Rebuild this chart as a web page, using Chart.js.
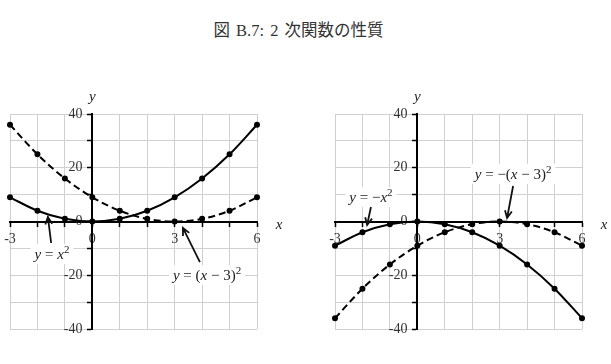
<!DOCTYPE html>
<html>
<head>
<meta charset="utf-8">
<script src="https://cdn.jsdelivr.net/npm/chart.js@4"></script>
<style>
  body { margin: 0; width: 611px; height: 364px; background: #fff; position: relative; overflow: hidden; }
  #title { position: absolute; left: 0; top: 17px; width: 597px; text-align: center; word-spacing: 2px;
           font: 16.5px "Liberation Serif", "Noto Sans CJK JP"; color: #333; }
  .box { position: absolute; top: 90px; height: 260px; }
</style>
</head>
<body>
<div id="title">図 B.7: 2 次関数の性質</div>
<div class="box" style="left:0;width:305px"><canvas id="c1"></canvas></div>
<div class="box" style="left:305px;width:306px"><canvas id="c2"></canvas></div>
<script>
// data
const xValues = [-3, -2, -1, 0, 1, 2, 3, 4, 5, 6];
const leftSolid = [9, 4, 1, 0, 1, 4, 9, 16, 25, 36];       // y = x^2
const leftDashed = [36, 25, 16, 9, 4, 1, 0, 1, 4, 9];      // y = (x-3)^2
const rightSolid = [-9, -4, -1, 0, -1, -4, -9, -16, -25, -36];   // y = -x^2
const rightDashed = [-36, -25, -16, -9, -4, -1, 0, -1, -4, -9];  // y = -(x-3)^2
const xTickLabels = [-3, 0, 3, 6];
const yTickLabels = [-40, -20, 0, 20, 40];

// callouts: text anchor, arrow start, arrow tip (data coords)
const leftNotes = [
  {label: 'y = x²', at: [-1.47, -12.1], from: [-1.5, -8], to: [-1.62, 1.7]},
  {label: 'y = (x − 3)²', at: [4.18, -19.9], from: [3.92, -15.1], to: [3.3, -2.4]}
];
const rightNotes = [
  {label: 'y = −x²', at: [-1.69, 9.1], from: [-1.69, 5.4], to: [-1.83, -1.3]},
  {label: 'y = −(x − 3)²', at: [3.49, 17.7], from: [3.49, 13.2], to: [3.27, 1.3]}
];

function pts(ys) {
  return xValues.map((x, i) => ({x: x, y: ys[i]}));
}

// split math text into italic letters / upright / superscript
function mathParts(str) {
  const parts = [];
  for (const c of str) {
    const kind = c === '²' ? 'sup' : (/[a-z]/.test(c) ? 'it' : 'up');
    const t = c === '²' ? '2' : c;
    if (parts.length && parts[parts.length - 1].kind === kind) parts[parts.length - 1].t += t;
    else parts.push({kind, t});
  }
  return parts;
}
function fontFor(kind) {
  if (kind === 'it') return 'italic 15px "Liberation Serif"';
  if (kind === 'sup') return '11px "Liberation Serif"';
  return '15px "Liberation Serif"';
}

const notesPlugin = {
  id: 'notes',
  afterDatasetsDraw(chart, args, opts) {
    const {ctx, chartArea} = chart;
    const sx = chart.scales.x, sy = chart.scales.y;
    ctx.save();
    ctx.fillStyle = '#222';
    ctx.font = 'italic 15px "Liberation Serif"';
    ctx.textAlign = 'center';
    ctx.textBaseline = 'middle';
    ctx.fillText('y', sx.getPixelForValue(0), chartArea.top - 17);
    ctx.fillText('x', chartArea.right + 22, sy.getPixelForValue(0) + 4);

    for (const n of opts.notes) {
      const parts = mathParts(n.label);
      let w = 0;
      parts.forEach(p => { ctx.font = fontFor(p.kind); p.w = ctx.measureText(p.t).width; w += p.w; });
      const cx = sx.getPixelForValue(n.at[0]), cy = sy.getPixelForValue(n.at[1]);
      ctx.fillStyle = '#fff';
      ctx.fillRect(cx - w / 2 - 4, cy - 10, w + 8, 20);
      ctx.fillStyle = '#222';
      ctx.textAlign = 'left';
      ctx.textBaseline = 'alphabetic';
      let px = cx - w / 2;
      parts.forEach(p => {
        ctx.font = fontFor(p.kind);
        ctx.fillText(p.t, px, p.kind === 'sup' ? cy - 1 : cy + 5);
        px += p.w;
      });
      // arrow
      const x1 = sx.getPixelForValue(n.from[0]), y1 = sy.getPixelForValue(n.from[1]);
      const x2 = sx.getPixelForValue(n.to[0]), y2 = sy.getPixelForValue(n.to[1]);
      const a = Math.atan2(y2 - y1, x2 - x1);
      ctx.strokeStyle = '#111';
      ctx.lineWidth = 1.8;
      ctx.beginPath();
      ctx.moveTo(x1, y1);
      ctx.lineTo(x2, y2);
      ctx.moveTo(x2 - 8 * Math.cos(a - 0.45), y2 - 8 * Math.sin(a - 0.45));
      ctx.lineTo(x2, y2);
      ctx.lineTo(x2 - 8 * Math.cos(a + 0.45), y2 - 8 * Math.sin(a + 0.45));
      ctx.stroke();
    }
    ctx.restore();
  }
};

function makeChart(id, solid, dashed, notes, pad) {
  const tickFont = {family: 'Liberation Serif', size: 14};
  new Chart(document.getElementById(id), {
    type: 'line',
    data: {
      datasets: [
        {data: pts(solid), borderColor: '#000', backgroundColor: '#000', borderWidth: 2,
         pointRadius: 2, pointHoverRadius: 2, cubicInterpolationMode: 'monotone', clip: 6},
        {data: pts(dashed), borderColor: '#000', backgroundColor: '#000', borderWidth: 2, borderDash: [7, 4],
         pointRadius: 2, pointHoverRadius: 2, cubicInterpolationMode: 'monotone', clip: 6}
      ]
    },
    options: {
      responsive: true,
      maintainAspectRatio: false,
      animation: false,
      events: [],
      layout: {padding: pad},
      plugins: {legend: {display: false}, tooltip: {enabled: false}, notes: {notes: notes}},
      scales: {
        x: {
          type: 'linear', min: -3, max: 6, position: {y: 0},
          afterFit(s) { s.height = 0; s.paddingLeft = 0; s.paddingRight = 0; },
          ticks: {stepSize: 1, autoSkip: false, maxRotation: 0, padding: 5, color: '#333', font: tickFont,
                  callback: v => xTickLabels.includes(v) ? String(v) : ''},
          grid: {color: '#d0d0d0', lineWidth: 1, tickLength: 4, tickColor: '#000', tickWidth: 1.5},
          border: {color: '#000', width: 2}
        },
        y: {
          type: 'linear', min: -40, max: 40, position: {x: 0},
          afterFit(s) { s.width = 0; s.paddingTop = 0; s.paddingBottom = 0; },
          // labels sit right-aligned on the axis line, so pad them with spaces
          ticks: {stepSize: 10, autoSkip: false, color: '#333', font: tickFont,
                  callback: v => yTickLabels.includes(v) ? String(v) + '\u2002\u2009' : ''},
          grid: {color: '#d0d0d0', lineWidth: 1, tickLength: 4, tickColor: '#000', tickWidth: 1.5},
          border: {color: '#000', width: 2}
        }
      }
    },
    plugins: [notesPlugin]
  });
}

makeChart('c1', leftSolid, leftDashed, leftNotes, {left: 10, right: 48, top: 24, bottom: 21});
makeChart('c2', rightSolid, rightDashed, rightNotes, {left: 30, right: 29, top: 24, bottom: 21});
</script>
</body>
</html>
